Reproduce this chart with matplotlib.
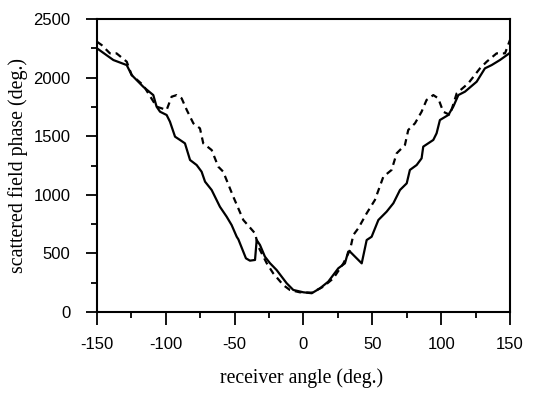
import matplotlib
matplotlib.use("Agg")
import matplotlib.pyplot as plt
from matplotlib.ticker import MultipleLocator

# receiver angle (deg.) and scattered field phase (deg.)
solid_angle = [-150, -138.1, -128.4, -124.8, -116.4, -109.1, -106.7, -104.2, -99.4, -97.0,
               -93.3, -89.7, -86.1, -82.4, -77.6, -74.0, -71.5, -66.7, -60.7, -55.8,
               -52.2, -48.5, -47.3, -41.8, -38.9, -35.2, -34.0, -31.6, -28.0, -24.3,
               -19.5, -12.2, -7.4, -0.1, 6.0, 12.0, 18.0, 25.3, 30.1, 32.5,
               33.8, 42.3, 45.9, 49.5, 54.4, 60.4, 65.3, 70.1, 75.0, 77.3,
               82.2, 85.8, 87.0, 94.3, 96.7, 99.1, 105.2, 108.8, 112.5, 117.3,
               125.8, 131.8, 136.7, 142.7, 149.5, 150]
solid_phase = [2250, 2150, 2107, 2022, 1922, 1851, 1752, 1709, 1681, 1624,
               1496, 1468, 1439, 1297, 1254, 1197, 1112, 1041, 898, 813,
               742, 642, 620, 458, 438, 444, 614, 572, 472, 416,
               358, 245, 188, 168, 160, 202, 259, 373, 415, 515,
               515, 415, 614, 642, 785, 856, 928, 1041, 1098, 1212,
               1254, 1311, 1411, 1468, 1525, 1638, 1681, 1752, 1851, 1880,
               1965, 2079, 2107, 2150, 2207, 2215]

dashed_angle = [-150, -146.6, -140.6, -135.8, -128.4, -124.8, -116.4, -106.7, -99.4, -95.8,
                -92.1, -88.5, -84.8, -80.0, -75.2, -72.8, -66.7, -61.9, -58.3, -51.0,
                -43.7, -35.2, -32.8, -26.7, -22.0, -14.7, -9.9, -2.7, 6.0, 14.4,
                21.7, 29.0, 33.8, 36.2, 39.8, 45.9, 51.9, 58.0, 64.0, 67.7,
                73.7, 76.1, 81.0, 85.8, 89.4, 94.3, 97.9, 101.5, 106.4, 111.3,
                119.7, 128.2, 133.1, 140.3, 146.4, 150]
dashed_phase = [2306, 2278, 2207, 2207, 2136, 2022, 1935, 1752, 1724, 1837,
                1851, 1823, 1724, 1610, 1567, 1439, 1382, 1240, 1197, 984,
                785, 671, 557, 416, 330, 230, 188, 168, 165, 216,
                287, 415, 529, 657, 714, 842, 956, 1154, 1212, 1354,
                1425, 1553, 1610, 1709, 1809, 1851, 1823, 1709, 1681, 1866,
                1951, 2079, 2136, 2207, 2207, 2321]

x_ticks = [-150, -100, -50, 0, 50, 100, 150]
y_ticks = [0, 500, 1000, 1500, 2000, 2500]

fig = plt.figure(figsize=(5.4, 4.09), dpi=100)
ax = fig.add_axes([0.1796, 0.2372, 0.7648, 0.7163])

ax.plot(solid_angle, solid_phase, color="black", lw=1.6, solid_joinstyle="round")
ax.plot(dashed_angle, dashed_phase, color="black", lw=1.6, dashes=(3, 2.2))

ax.set_xlim(-150, 150)
ax.set_ylim(0, 2500)
ax.set_xticks(x_ticks)
ax.set_yticks(y_ticks)
ax.xaxis.set_minor_locator(MultipleLocator(25))
ax.yaxis.set_minor_locator(MultipleLocator(250))

tick_font = dict(family="Liberation Sans", size=12)
ax.set_xticklabels([str(v) for v in x_ticks], **tick_font)
ax.set_yticklabels([str(v) for v in y_ticks], **tick_font)
ax.tick_params(axis="x", which="major", direction="out", length=9, width=1.3, pad=9)
ax.tick_params(axis="x", which="minor", direction="out", length=4, width=1.3)
ax.tick_params(axis="y", which="major", direction="out", length=8, width=1.3, pad=11)
ax.tick_params(axis="y", which="minor", direction="out", length=4, width=1.3)

for s in ax.spines.values():
    s.set_linewidth(1.5)

fig.text(18 / 540, 1 - 165.5 / 409, "scattered field phase (deg.)", rotation=90,
         ha="center", va="center", family="Liberation Serif", size=14.3)
fig.text(302 / 540, 1 - 378 / 409, "receiver angle (deg.)",
         ha="center", va="center", family="Liberation Serif", size=14.2)

fig.savefig("out.png", dpi=100)
